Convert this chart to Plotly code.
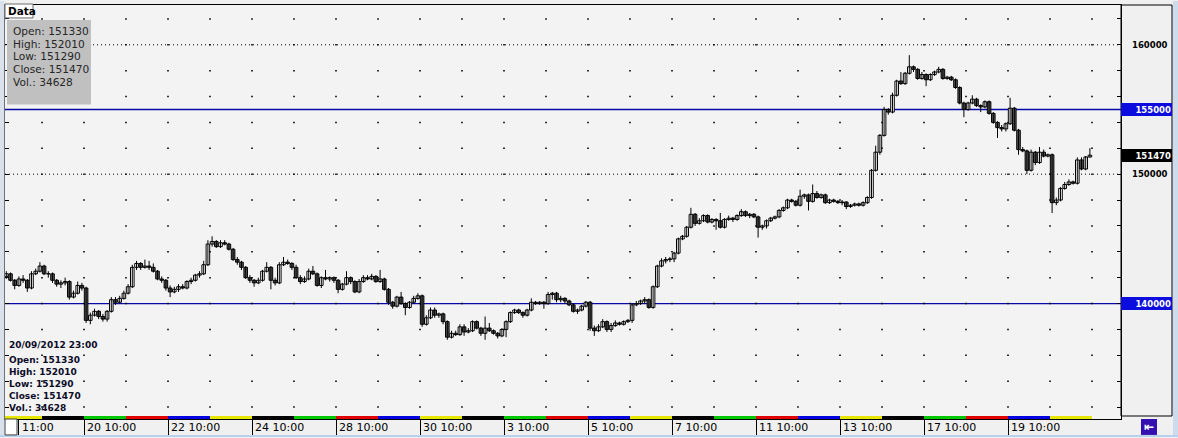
import datetime
import plotly.graph_objects as go

# ---------------- data ----------------
# trading days shown on the chart (one 10-slot session each)
DAYS = ["2012-08-16", "2012-08-17", "2012-08-20", "2012-08-21", "2012-08-22", "2012-08-23",
        "2012-08-24", "2012-08-27", "2012-08-28", "2012-08-29", "2012-08-30", "2012-08-31",
        "2012-09-03", "2012-09-04", "2012-09-05", "2012-09-06", "2012-09-07", "2012-09-10",
        "2012-09-11", "2012-09-12", "2012-09-13", "2012-09-14", "2012-09-17", "2012-09-18",
        "2012-09-19", "2012-09-20"]
SLOTS_PER_DAY = 10
FIRST_SLOT = 1          # first visible bar is the 2nd slot of the first day

OPEN = [
    142100, 142300, 141800, 141400, 141900, 141800, 141200, 142300, 142500,
    142900, 142300, 142300, 141800, 141500, 141600, 141700, 140500, 140800, 141400,
    141200, 138700, 139100, 139400, 139000, 138800, 139400, 140300, 140100, 140400,
    140800, 141300, 142800, 143100, 142800, 142900, 142800, 142500, 141900, 141800,
    141200, 140900, 141100, 141300, 141200, 141700, 141800, 142200, 142300, 143000,
    144600, 144800, 144400, 144700, 144600, 144200, 143400, 143200, 142800, 142000,
    141800, 141600, 141800, 142500, 142800, 141800, 141600, 143000, 143200, 143100,
    142800, 142000, 141700, 141900, 142500, 142300, 141400, 142000, 141900, 142000,
    141800, 141100, 141500, 142000, 141700, 140900, 141700, 142000, 141900, 142100,
    141700, 141900, 141100, 140100, 139800, 140500, 140000, 139700, 140100, 140400,
    140600, 138400, 138900, 139500, 139100, 139200, 138600, 137400, 137700, 137600,
    138200, 137800, 137900, 138600, 138100, 137700, 138100, 137900, 137700, 137500,
    138000, 138600, 139300, 139500, 139300, 139100, 139500, 140100, 140000, 140100,
    140000, 140700, 140800, 140300, 140400, 140200, 139900, 139400, 139500, 139800,
    140100, 138100, 137900, 138200, 138600, 138000, 138300, 138500, 138400, 138600,
    138700, 139900, 140000, 140200, 140300, 139700, 141300, 142900, 143300, 143400,
    143450, 143900, 145000, 145200, 145900, 146900, 146200, 146400, 146800, 146300,
    146500, 146400, 145900, 146500, 146600, 146500, 146800, 147100, 146800, 146900,
    146700, 145900, 146000, 146400, 146600, 146700, 147200, 147400, 148000, 147900,
    147600, 148300, 148400, 147900, 148500, 148200, 148400, 147800, 148000, 147900,
    147800, 147850, 147500, 147600, 147700, 147600, 147800, 148200, 150300, 151700,
    153000, 155000, 154800, 156100, 157200, 157000, 157800, 158300, 158100, 157400,
    157700, 157300, 157700, 157900, 158100, 157400, 157500, 157300, 156700, 155500,
    155000, 155500, 155800, 155300, 155200, 155600, 154700, 154000, 153600, 153500,
    153900, 155100, 153400, 151900, 151800, 150300, 151700, 150900, 151700, 151400,
    151500, 147800, 148000, 148900, 149200, 149400, 149300, 151100, 150400, 151330,
]
HIGH = [
    142500, 142400, 141900, 142100, 142200, 141900, 142500, 142700, 143200,
    143000, 142500, 142400, 141900, 141800, 142000, 141800, 141000, 141700, 141600,
    141300, 139300, 139600, 139500, 139200, 139500, 140500, 140500, 140600, 141000,
    141500, 143000, 143300, 143200, 143400, 143300, 143100, 142600, 142100, 141900,
    141400, 141300, 141500, 141500, 141800, 142000, 142300, 142500, 143300, 144900,
    145200, 144900, 144900, 144900, 144700, 144300, 143600, 143300, 142900, 142200,
    141900, 142000, 142600, 143200, 142900, 142000, 143200, 143600, 143400, 143200,
    143000, 142200, 142100, 142700, 142900, 142400, 142100, 142600, 142100, 142100,
    141900, 141600, 142500, 142100, 141800, 141900, 142200, 142200, 142300, 142200,
    142600, 142000, 141200, 140200, 140600, 140900, 140100, 140200, 140600, 140800,
    140700, 139100, 139700, 139700, 139300, 139300, 138700, 137900, 137900, 138400,
    138400, 138100, 138700, 138700, 138200, 139000, 138500, 138000, 137800, 138100,
    138700, 139400, 139600, 139600, 139400, 139600, 140400, 140200, 140200, 140200,
    140900, 140900, 140900, 140600, 140500, 140300, 140000, 139600, 139900, 140200,
    140200, 138300, 138400, 138800, 138700, 138500, 138700, 138600, 138700, 138800,
    140000, 140200, 140300, 140500, 140400, 141400, 143000, 143500, 143600, 143600,
    144000, 145100, 145300, 146000, 147400, 147000, 146600, 146900, 146900, 146600,
    146600, 147000, 146600, 146800, 146700, 146900, 147300, 147200, 147000, 147000,
    146800, 146100, 146500, 146700, 146800, 147300, 147500, 148100, 148100, 148000,
    148800, 148500, 148500, 149200, 148700, 148500, 148500, 148100, 148100, 148000,
    148000, 147900, 147700, 147800, 147800, 147900, 148300, 150400, 152200, 153100,
    155200, 155100, 156300, 157300, 157900, 157900, 159200, 158400, 158200, 157900,
    157800, 157800, 158000, 158300, 158200, 157600, 157600, 157400, 156800, 155600,
    155600, 156100, 155900, 155400, 155700, 155700, 154800, 154100, 153800, 154000,
    155900, 155200, 153500, 152100, 151900, 151900, 151800, 152100, 151900, 151600,
    151600, 148200, 149000, 149400, 149600, 149500, 151300, 151300, 151400, 152010,
]
LOW = [
    141900, 141700, 141100, 141300, 141600, 140900, 141100, 142200, 142400,
    142200, 142000, 141600, 141300, 141200, 141400, 140300, 140400, 140700, 141000,
    138500, 138400, 139000, 138800, 138600, 138600, 139300, 139900, 140000, 140300,
    140700, 141200, 142600, 142600, 142700, 142600, 142400, 141800, 141600, 141000,
    140500, 140800, 140900, 141100, 141100, 141500, 141700, 142000, 142200, 142900,
    144400, 144300, 144300, 144500, 144100, 143300, 143000, 142600, 141900, 141600,
    141300, 141500, 141700, 142400, 141100, 141400, 141500, 142900, 143000, 142600,
    141900, 141500, 141600, 141800, 142200, 141300, 141200, 141800, 141700, 141600,
    140800, 141000, 141400, 141500, 140800, 140800, 141600, 141800, 141800, 141600,
    141600, 141000, 139900, 139600, 139700, 139900, 139100, 139600, 140000, 140300,
    138200, 138300, 138800, 138900, 138900, 138400, 137200, 137300, 137500, 137500,
    137500, 137700, 137800, 138000, 137500, 137200, 137800, 137600, 137300, 137400,
    137400, 138500, 139200, 139200, 138900, 139000, 139400, 139900, 139900, 139600,
    139900, 140300, 140100, 140100, 140000, 139800, 139300, 139200, 139400, 139700,
    137900, 137500, 137800, 138100, 137800, 137800, 138200, 138300, 138300, 138500,
    138500, 139800, 139900, 140000, 139600, 139600, 141200, 142800, 143100, 143200,
    143200, 143800, 144900, 145100, 145800, 146000, 146100, 146300, 146200, 146200,
    145700, 145800, 145800, 146400, 146300, 146400, 146700, 146700, 146600, 146600,
    145100, 145700, 145800, 146300, 146500, 146600, 147100, 147300, 147800, 147500,
    147500, 148100, 147200, 147800, 148100, 148100, 147700, 147700, 147800, 147700,
    147600, 147300, 147400, 147500, 147500, 147500, 147700, 148100, 150200, 151500,
    152900, 154600, 154700, 156000, 156900, 156900, 157700, 157900, 157300, 157300,
    156800, 157200, 157600, 157800, 157300, 157300, 157200, 156600, 155400, 154400,
    154900, 155400, 155200, 154800, 155100, 154600, 153900, 152800, 153300, 153300,
    153800, 153300, 151500, 151700, 150000, 150200, 150700, 150800, 151300, 151300,
    147000, 147600, 147900, 148800, 149100, 149200, 149200, 150300, 150300, 151290,
]
CLOSE = [
    142300, 141800, 141400, 141900, 141800, 141200, 142300, 142500, 142900,
    142300, 142300, 141800, 141500, 141600, 141700, 140500, 140800, 141400, 141200,
    138700, 139100, 139400, 139000, 138800, 139400, 140300, 140100, 140400, 140800,
    141300, 142800, 143100, 142800, 142900, 142800, 142500, 141900, 141800, 141200,
    140900, 141100, 141300, 141200, 141700, 141800, 142200, 142300, 143000, 144600,
    144800, 144400, 144700, 144600, 144200, 143400, 143200, 142800, 142000, 141800,
    141600, 141800, 142500, 142800, 141800, 141600, 143000, 143200, 143100, 142800,
    142000, 141700, 141900, 142500, 142300, 141400, 142000, 141900, 142000, 141800,
    141100, 141500, 142000, 141700, 140900, 141700, 142000, 141900, 142100, 141700,
    141900, 141100, 140100, 139800, 140500, 140000, 139700, 140100, 140400, 140600,
    138400, 138900, 139500, 139100, 139200, 138600, 137400, 137700, 137600, 138200,
    137800, 137900, 138600, 138100, 137700, 138100, 137900, 137700, 137500, 138000,
    138600, 139300, 139500, 139300, 139100, 139500, 140100, 140000, 140100, 140000,
    140700, 140800, 140300, 140400, 140200, 139900, 139400, 139500, 139800, 140100,
    138100, 137900, 138200, 138600, 138000, 138300, 138500, 138400, 138600, 138700,
    139900, 140000, 140200, 140300, 139700, 141300, 142900, 143300, 143400, 143450,
    143900, 145000, 145200, 145900, 146900, 146200, 146400, 146800, 146300, 146500,
    146400, 145900, 146500, 146600, 146500, 146800, 147100, 146800, 146900, 146700,
    145900, 146000, 146400, 146600, 146700, 147200, 147400, 148000, 147900, 147600,
    148300, 148400, 147900, 148500, 148200, 148400, 147800, 148000, 147900, 147800,
    147850, 147500, 147600, 147700, 147600, 147800, 148200, 150300, 151700, 153000,
    155000, 154800, 156100, 157200, 157000, 157800, 158300, 158100, 157400, 157700,
    157300, 157700, 157900, 158100, 157400, 157500, 157300, 156700, 155500, 155000,
    155500, 155800, 155300, 155200, 155600, 154700, 154000, 153600, 153500, 153900,
    155100, 153400, 151900, 151800, 150300, 151700, 150900, 151700, 151400, 151500,
    147800, 148000, 148900, 149200, 149400, 149300, 151100, 150400, 151330, 151470,
]
LAST_TIME = "20/09/2012 23:00"
LAST_VOLUME = 34628

HLINES_SOLID = [155000, 140000]          # user drawn lines (blue)
HLINES_DOTTED = [160000, 150000]
Y_LABELS = [160000, 150000]
Y_TICK_STEP = 2000

TICK_X = [0.45, 2, 4, 6, 8, 10, 12, 14, 16, 18, 20, 22, 24]   # in trading-day units
TICK_TEXT = ["11:00", "20 10:00", "22 10:00", "24 10:00", "28 10:00", "30 10:00", "3 10:00",
             "5 10:00", "7 10:00", "11 10:00", "13 10:00", "17 10:00", "19 10:00"]

WEEKDAY_COLORS = {0: "#00c800", 1: "#e00000", 2: "#0000e0", 3: "#e6e600", 4: "#000000"}
UP_FILL, DOWN_FILL = "#ffffff", "#585858"

# ---------------- layout geometry (pixels) ----------------
W, H = 1178, 438
PL, PR, PT, PB = 5, 1121, 4, 420         # plot area edges in px
PX_PER_DAY = 42.0
Y_AT_150K, PX_PER_1000 = 174, 13.0
BODY_WIDTH = 0.085                       # fraction of a day


def px2x(px):
    return (px - PL) / (PR - PL)


def py2y(py):
    return (PB - py) / (PB - PT)


x_range = [PL / PX_PER_DAY, PR / PX_PER_DAY]
y_top = 150000 + (Y_AT_150K - PT) / PX_PER_1000 * 1000
y_bot = 150000 - (PB - Y_AT_150K) / PX_PER_1000 * 1000

xs = [(i + FIRST_SLOT + 0.5) / SLOTS_PER_DAY for i in range(len(CLOSE))]

fig = go.Figure()

# dot grid
gx, gy = [], []
yv = (int(y_bot) // Y_TICK_STEP + 1) * Y_TICK_STEP
grid_levels = []
while yv < y_top:
    grid_levels.append(yv)
    yv += Y_TICK_STEP
for d in range(1, len(DAYS) + 1):
    for lv in grid_levels:
        gx.append(d)
        gy.append(lv)
fig.add_trace(go.Scatter(x=gx, y=gy, mode="markers",
                         marker=dict(symbol="square", size=1.6, color="#000000", line=dict(width=0)),
                         hoverinfo="skip"))

# candle wicks (high-low)
wx, wy = [], []
for x, hi, lo in zip(xs, HIGH, LOW):
    wx += [x, x, None]
    wy += [lo, hi, None]
fig.add_trace(go.Scatter(x=wx, y=wy, mode="lines", line=dict(color="#000000", width=1),
                         hoverinfo="skip"))

# candle bodies (open-close)
fig.add_trace(go.Bar(
    x=xs,
    base=[min(o, c) for o, c in zip(OPEN, CLOSE)],
    y=[abs(c - o) for o, c in zip(OPEN, CLOSE)],
    width=BODY_WIDTH,
    marker=dict(color=[UP_FILL if c >= o else DOWN_FILL for o, c in zip(OPEN, CLOSE)],
                line=dict(color="#000000", width=1)),
    hoverinfo="skip",
))

shapes = []
# lines
for v in HLINES_DOTTED:
    shapes.append(dict(type="line", xref="paper", yref="y", x0=0, x1=1, y0=v, y1=v,
                       line=dict(color="#000000", width=1, dash="1px,3px"), layer="below"))
for v in HLINES_SOLID:
    shapes.append(dict(type="line", xref="paper", yref="y", x0=0, x1=1, y0=v, y1=v,
                       line=dict(color="#0808a8", width=1.3), layer="below"))

# weekday colour strip along the bottom
for d, ds in enumerate(DAYS):
    wd = datetime.date.fromisoformat(ds).weekday()
    shapes.append(dict(type="rect", xref="x", yref="paper",
                       x0=max(d, x_range[0]), x1=d + 1, y0=0, y1=py2y(417),
                       fillcolor=WEEKDAY_COLORS[wd], line=dict(width=0), layer="above"))

# window chrome
shapes.append(dict(type="rect", xref="paper", yref="paper", x0=px2x(0), x1=px2x(PL - 0.5),
                   y0=py2y(H), y1=py2y(0), fillcolor="#d9e2ec", line=dict(width=0)))
shapes.append(dict(type="rect", xref="paper", yref="paper", x0=px2x(1173), x1=px2x(W),
                   y0=py2y(H), y1=py2y(0), fillcolor="#cddcec", line=dict(width=0)))
shapes.append(dict(type="rect", xref="paper", yref="paper", x0=px2x(0), x1=px2x(W),
                   y0=py2y(H), y1=py2y(436), fillcolor="#b9d1ea", line=dict(width=0)))
# right price-axis panel frame
shapes.append(dict(type="rect", xref="paper", yref="paper", x0=1, x1=px2x(1172),
                   y0=py2y(417), y1=1, line=dict(color="#000000", width=1)))
# info box (top-left)
shapes.append(dict(type="rect", xref="paper", yref="paper", x0=px2x(7), x1=px2x(91),
                   y0=py2y(104), y1=py2y(19), fillcolor="#c0c0c0", line=dict(width=0),
                   layer="above"))
# "Data" tab
shapes.append(dict(type="rect", xref="paper", yref="paper", x0=px2x(5), x1=px2x(33),
                   y0=py2y(17), y1=py2y(3), fillcolor="#ffffff",
                   line=dict(color="#6a6a6a", width=1), layer="above"))
# small box bottom-left
shapes.append(dict(type="rect", xref="paper", yref="paper", x0=px2x(5), x1=px2x(17),
                   y0=py2y(436), y1=py2y(420), fillcolor="#ffffff",
                   line=dict(color="#404040", width=1), layer="above"))
# icon bottom-right
shapes.append(dict(type="rect", xref="paper", yref="paper", x0=px2x(1141), x1=px2x(1157),
                   y0=py2y(436), y1=py2y(420), fillcolor="#3410b0",
                   line=dict(width=0), layer="above"))

ann = []
FONT = "DejaVu Sans"
ann.append(dict(xref="paper", yref="paper", x=px2x(6), y=py2y(10), xanchor="left", yanchor="middle",
                text="<b>Data</b>", showarrow=False, font=dict(family=FONT, size=10.5, color="#000000")))

o, h, l, c = OPEN[-1], HIGH[-1], LOW[-1], CLOSE[-1]
info = [f"Open: {o}", f"High: {h}", f"Low: {l}", f"Close: {c}", f"Vol.: {LAST_VOLUME}"]
for i, t in enumerate(info):
    ann.append(dict(xref="paper", yref="paper", x=px2x(11), y=py2y(30 + 12.8 * i),
                    xanchor="left", yanchor="middle", text=t, showarrow=False,
                    font=dict(family=FONT, size=10.6, color="#262626")))

bl = [LAST_TIME] + info
bl_y = [346, 361, 373, 385, 397, 409]
for t, yy in zip(bl, bl_y):
    ann.append(dict(xref="paper", yref="paper", x=px2x(7), y=py2y(yy),
                    xanchor="left", yanchor="middle", text=f"<b>{t}</b>", showarrow=False,
                    font=dict(family=FONT, size=9, color="#0c0c28")))

for v in Y_LABELS:
    ann.append(dict(xref="paper", yref="y", x=px2x(1170), y=v, xanchor="right", yanchor="middle",
                    text=f"<b>{v}</b>", showarrow=False,
                    font=dict(family=FONT, size=8.5, color="#000000")))


def price_box(v, bg):
    return dict(xref="paper", yref="y", x=1, y=v, xanchor="left", yanchor="middle",
                text=f"<b>{v}</b>", showarrow=False, bgcolor=bg, width=49, height=11,
                borderpad=1, borderwidth=0, align="right",
                font=dict(family=FONT, size=8.5, color="#ffffff"))


for v in HLINES_SOLID:
    ann.append(price_box(v, "#0c0cde"))
ann.append(price_box(CLOSE[-1], "#000000"))

for tx, tt in zip(TICK_X, TICK_TEXT):
    ann.append(dict(xref="x", yref="paper", x=tx, y=py2y(429), xanchor="left", yanchor="middle",
                    xshift=1, text=tt, showarrow=False,
                    font=dict(family=FONT, size=11, color="#000000")))

ann.append(dict(xref="paper", yref="paper", x=px2x(1149), y=py2y(428), xanchor="center",
                yanchor="middle", text="<b>⇤</b>", showarrow=False,
                font=dict(family=FONT, size=12, color="#ffffff")))

fig.update_layout(
    width=W, height=H,
    margin=dict(l=PL, r=W - PR, t=PT, b=H - PB, pad=0),
    paper_bgcolor="#f0f0f0", plot_bgcolor="#f3f3f3",
    showlegend=False, hovermode=False,
    barmode="overlay",
    font=dict(family=FONT),
    shapes=shapes, annotations=ann,
    xaxis=dict(range=x_range, showgrid=False, zeroline=False,
               showline=True, linecolor="#000000", linewidth=1, mirror=True,
               tickmode="array", tickvals=TICK_X, ticks="outside", ticklen=15,
               tickcolor="#000000", tickwidth=1, showticklabels=False, fixedrange=True),
    yaxis=dict(range=[y_bot, y_top], side="right", showgrid=False, zeroline=False,
               showline=True, linecolor="#000000", linewidth=1, mirror="ticks",
               tickmode="array", tickvals=grid_levels, ticks="inside", ticklen=4,
               tickcolor="#000000", tickwidth=1, showticklabels=False, fixedrange=True),
)

fig.write_html("out.html", config={"displayModeBar": False, "staticPlot": True},
               post_script="document.body.style.margin='0';document.body.style.overflow='hidden';")
